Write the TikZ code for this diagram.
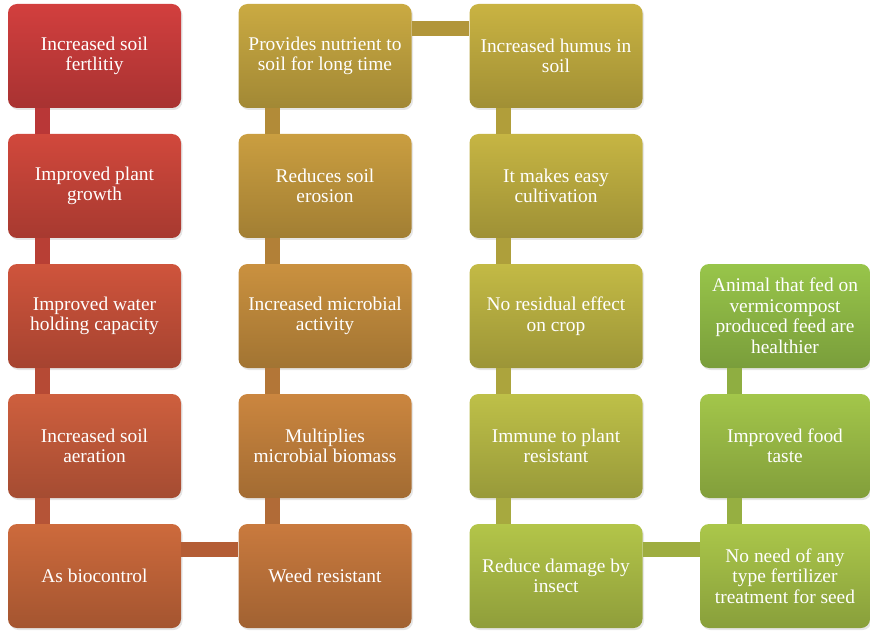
\documentclass[tikz,border=0pt]{standalone}
\usepackage{fontspec}
\setmainfont{Liberation Serif}
\newfontfamily\boxfont{Liberation Serif}
\usepackage{xcolor}
\usetikzlibrary{shadows,positioning}

\definecolor{v0}{HTML}{D23F3E}
\definecolor{v1}{HTML}{D1483C}
\definecolor{v2}{HTML}{CF543C}
\definecolor{v3}{HTML}{CE5F3E}
\definecolor{v4}{HTML}{CD6A3C}
\definecolor{v5}{HTML}{C97A3E}
\definecolor{v6}{HTML}{CB863F}
\definecolor{v7}{HTML}{CA913F}
\definecolor{v8}{HTML}{CA9E40}
\definecolor{v9}{HTML}{CAAA42}
\definecolor{v10}{HTML}{C9B342}
\definecolor{v11}{HTML}{C6B543}
\definecolor{v12}{HTML}{C3BA45}
\definecolor{v13}{HTML}{BEC048}
\definecolor{v14}{HTML}{B3C549}
\definecolor{v15}{HTML}{ABC74A}
\definecolor{v16}{HTML}{A3C64A}
\definecolor{v17}{HTML}{98C54A}

\begin{document}
\begin{tikzpicture}[x=1pt, y=-1pt,
  box/.style={rounded corners=9pt, minimum width=173pt, minimum height=104pt, inner sep=0pt,
    top color=#1, bottom color=#1!80!black, text=white, align=center,
    font=\boxfont\fontsize{19.4}{20.5}\selectfont,
    drop shadow={opacity=0.2, shadow xshift=1.5pt, shadow yshift=-2pt}},
  bar/.style={line width=15pt, draw=#1!88!black}]
  \useasboundingbox (0,0) rectangle (870,631);
  % first column, top to bottom
  \node[box=v0] (fert) at (94.5,56) {Increased soil\\fertlitiy};
  \node[box=v1] (growth) at (94.5,186) {Improved plant\\growth};
  \node[box=v2] (water) at (94.5,316) {Improved water\\holding capacity};
  \node[box=v3] (aera) at (94.5,446) {Increased soil\\aeration};
  \node[box=v4] (bioc) at (94.5,576) {As biocontrol};
  % second column, bottom to top
  \node[box=v5] (weed) at (325,576) {Weed resistant};
  \node[box=v6] (biom) at (325,446) {Multiplies\\microbial biomass};
  \node[box=v7] (micr) at (325,316) {Increased microbial\\activity};
  \node[box=v8] (eros) at (325,186) {Reduces soil\\erosion};
  \node[box=v9] (nutr) at (325,56) {Provides nutrient to\\soil for long time};
  % third column, top to bottom
  \node[box=v10] (humus) at (556,56) {Increased humus in\\soil};
  \node[box=v11] (cult) at (556,186) {It makes easy\\cultivation};
  \node[box=v12] (resid) at (556,316) {No residual effect\\on crop};
  \node[box=v13] (immune) at (556,446) {Immune to plant\\resistant};
  \node[box=v14] (insect) at (556,576) {Reduce damage by\\insect};
  % fourth column, bottom to top
  \node[box=v15, minimum width=170pt] (seed) at (785,576) {No need of any\\type fertilizer\\treatment for seed};
  \node[box=v16, minimum width=170pt] (taste) at (785,446) {Improved food\\taste};
  \node[box=v17, minimum width=170pt] (animal) at (785,316) {Animal that fed on\\vermicompost\\produced feed are\\healthier};
  % links
  \draw[bar=v0] ([xshift=34.5pt]fert.south west) -- ([xshift=34.5pt]growth.north west);
  \draw[bar=v1] ([xshift=34.5pt]growth.south west) -- ([xshift=34.5pt]water.north west);
  \draw[bar=v2] ([xshift=34.5pt]water.south west) -- ([xshift=34.5pt]aera.north west);
  \draw[bar=v3] ([xshift=34.5pt]aera.south west) -- ([xshift=34.5pt]bioc.north west);
  \draw[bar=v4] ([yshift=-26pt]bioc.north east) -- ([yshift=-26pt]weed.north west);
  \draw[bar=v5] ([xshift=34.5pt]biom.south west) -- ([xshift=34.5pt]weed.north west);
  \draw[bar=v6] ([xshift=34.5pt]micr.south west) -- ([xshift=34.5pt]biom.north west);
  \draw[bar=v7] ([xshift=34.5pt]eros.south west) -- ([xshift=34.5pt]micr.north west);
  \draw[bar=v8] ([xshift=34.5pt]nutr.south west) -- ([xshift=34.5pt]eros.north west);
  \draw[bar=v9] ([yshift=-25pt]nutr.north east) -- ([yshift=-25pt]humus.north west);
  \draw[bar=v10] ([xshift=34.5pt]humus.south west) -- ([xshift=34.5pt]cult.north west);
  \draw[bar=v11] ([xshift=34.5pt]cult.south west) -- ([xshift=34.5pt]resid.north west);
  \draw[bar=v12] ([xshift=34.5pt]resid.south west) -- ([xshift=34.5pt]immune.north west);
  \draw[bar=v13] ([xshift=34.5pt]immune.south west) -- ([xshift=34.5pt]insect.north west);
  \draw[bar=v14] ([yshift=-26pt]insect.north east) -- ([yshift=-26pt]seed.north west);
  \draw[bar=v15] ([xshift=34.5pt]taste.south west) -- ([xshift=34.5pt]seed.north west);
  \draw[bar=v16] ([xshift=34.5pt]animal.south west) -- ([xshift=34.5pt]taste.north west);
\end{tikzpicture}
\end{document}
